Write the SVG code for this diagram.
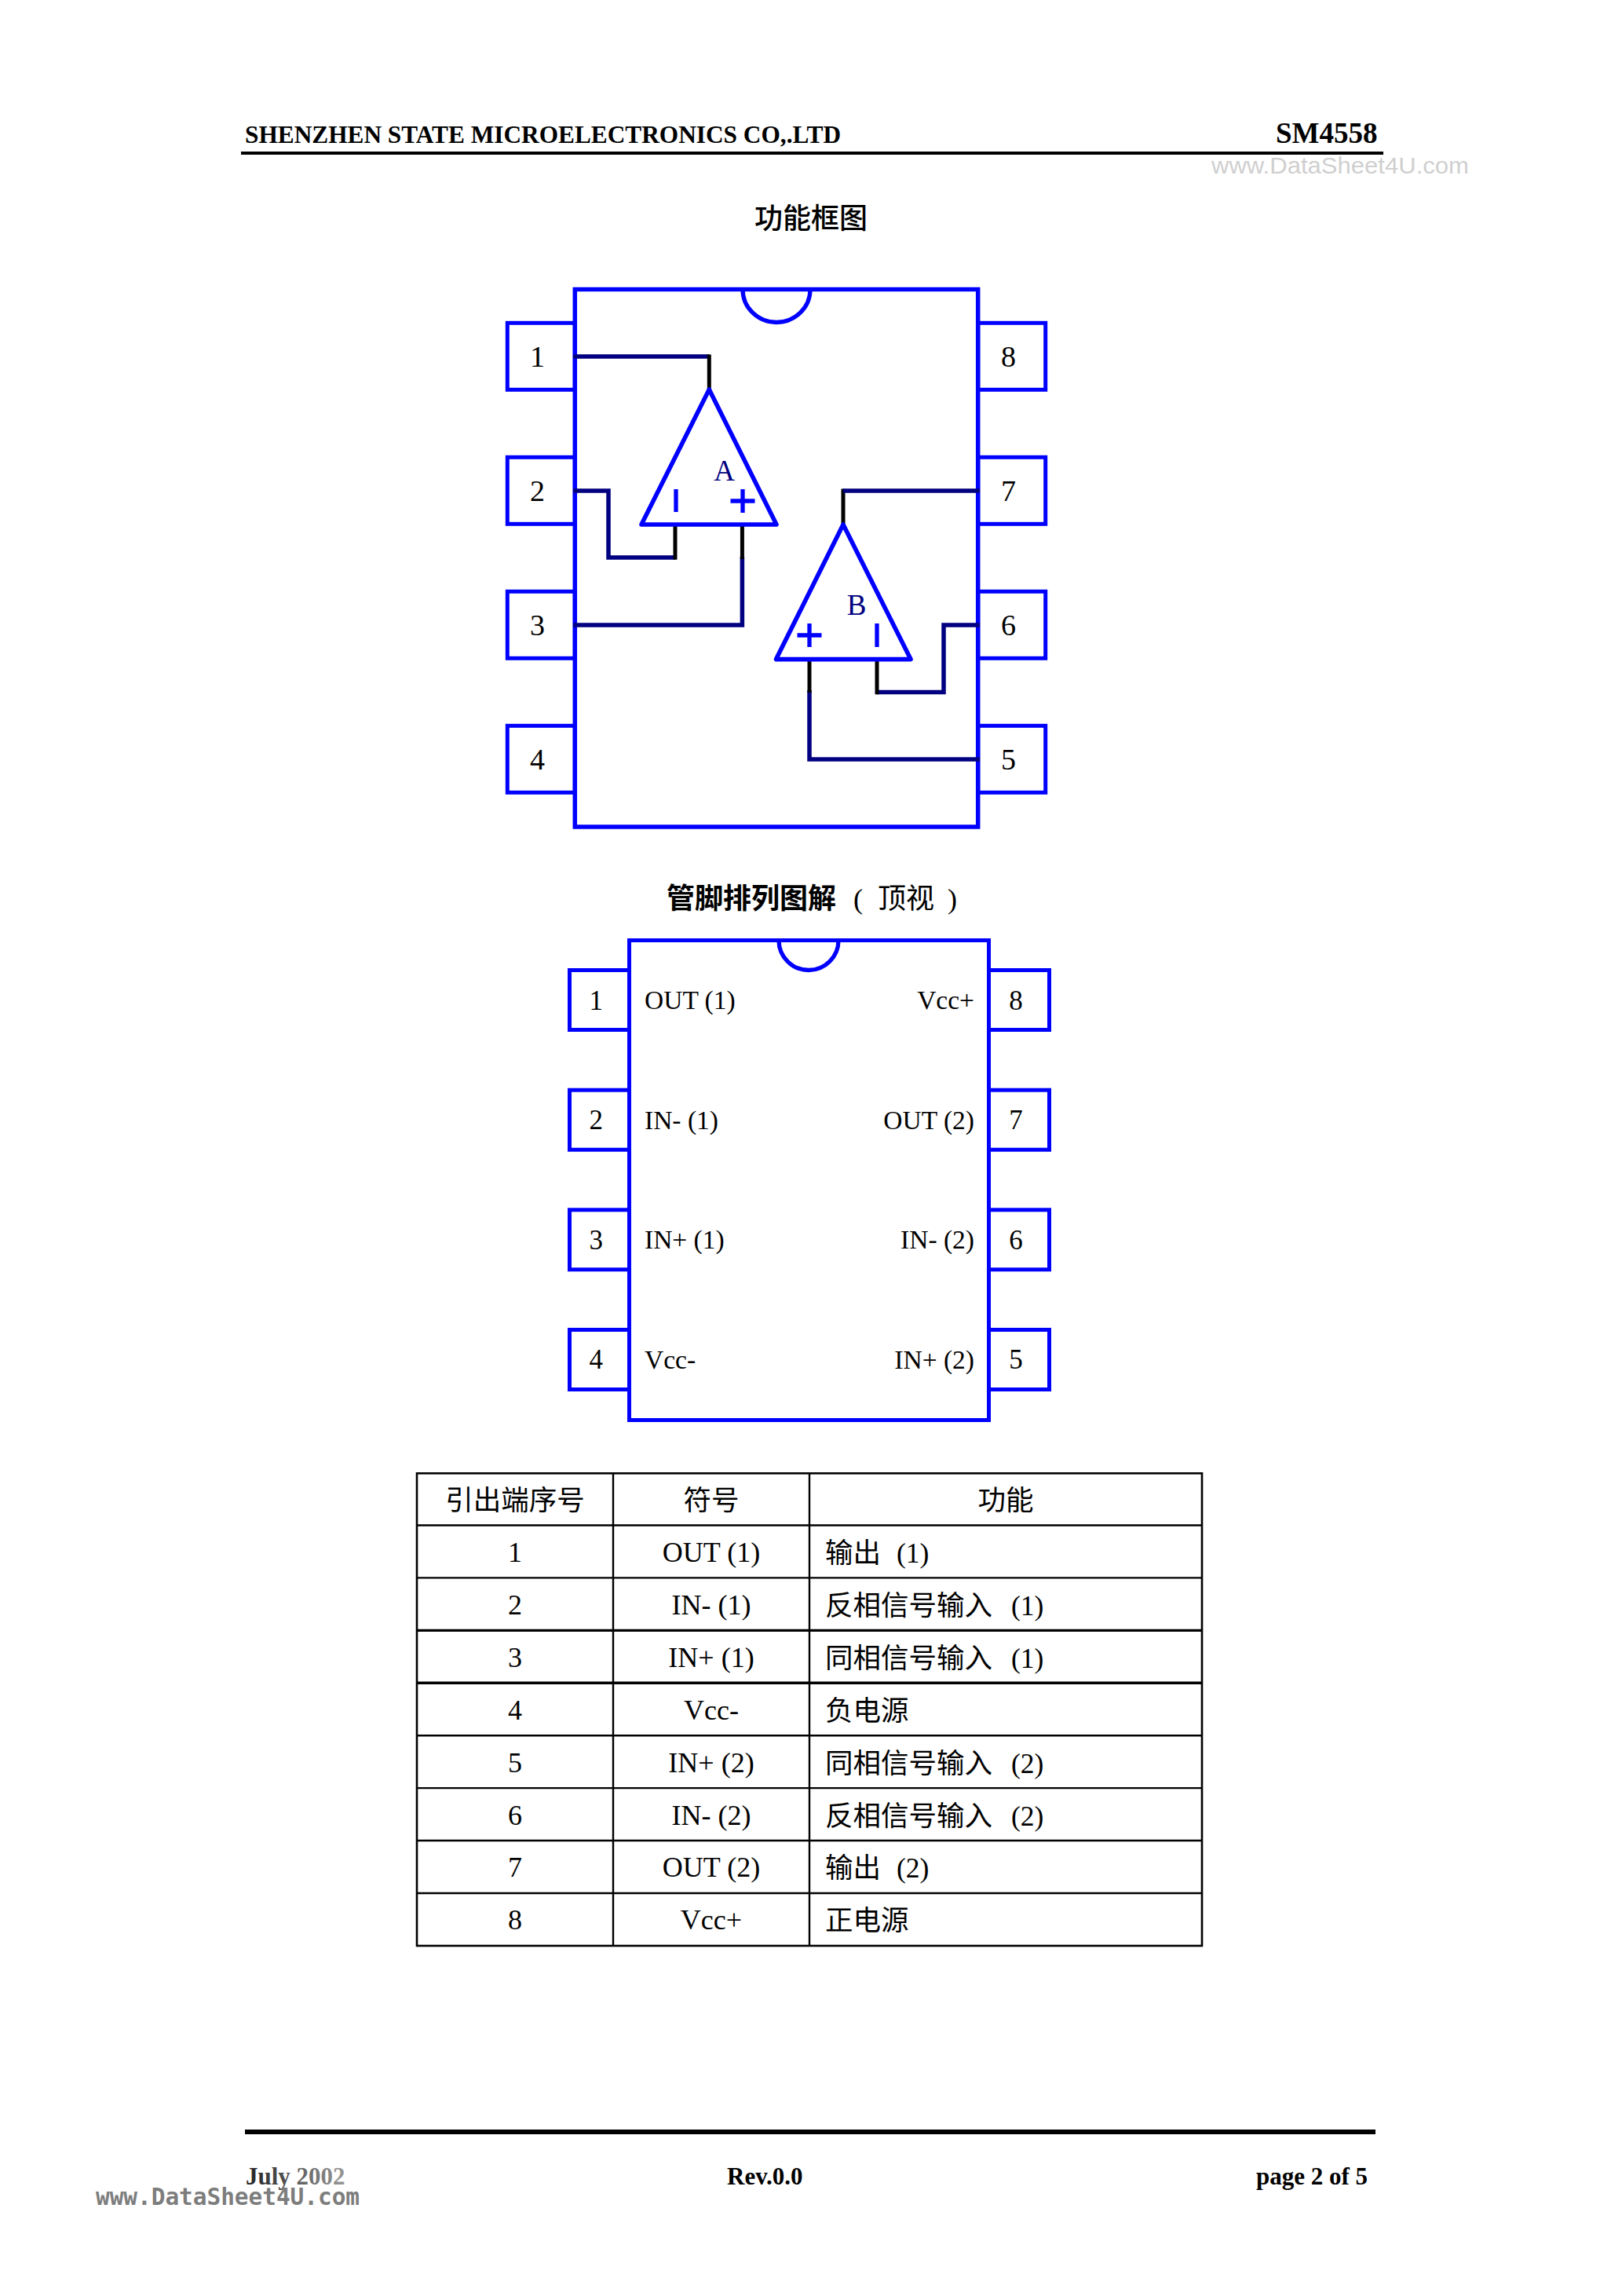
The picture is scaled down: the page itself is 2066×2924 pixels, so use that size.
<svg xmlns="http://www.w3.org/2000/svg" width="2066" height="2924" viewBox="0 0 2066 2924">
<style>
text{font-family:"Liberation Serif","Noto Sans CJK SC",serif;fill:#000}
.b{font-weight:700}
.d1{font-size:38px;text-anchor:middle}
.d2{font-size:35px;text-anchor:middle}
.lab{font-size:33.5px}
.end{text-anchor:end}
.blue{fill:none;stroke:#00f;stroke-width:5.3}
.pin{fill:#fff;stroke:#00f;stroke-width:5}
.box{fill:#fff;stroke:#00f;stroke-width:5.5}
.tri{fill:none;stroke:#00f;stroke-width:5.6;stroke-linejoin:round}
.navy{fill:none;stroke:#000080;stroke-width:5.5;stroke-linejoin:miter}
.blk{fill:none;stroke:#000;stroke-width:5}
.grid{stroke:#000;stroke-width:2.4;fill:none}
.t{font-size:36px}
.cj{font-size:35.5px}
.c{text-anchor:middle}
.wm1{font-family:"Liberation Sans",sans-serif;font-size:30px;fill:#cfcfcf}
.wm2{font-family:"DejaVu Sans Mono",monospace;font-size:30px;fill:#7d7d7d}
</style>
<defs>
<linearGradient id="fade" gradientUnits="userSpaceOnUse" x1="313" y1="0" x2="440" y2="0"><stop offset="0" stop-color="#222"/><stop offset="1" stop-color="#999"/></linearGradient>
</defs>
<rect width="2066" height="2924" fill="#fff"/>

<g id="header">
<text class="b" x="312" y="182" font-size="32" textLength="759" lengthAdjust="spacingAndGlyphs">SHENZHEN STATE MICROELECTRONICS CO,.LTD</text>
<text class="b" x="1625" y="182" font-size="37">SM4558</text>
<rect x="307" y="193" width="1455" height="4" fill="#000"/>
<text class="wm1" x="1543" y="221" textLength="328" lengthAdjust="spacingAndGlyphs">www.DataSheet4U.com</text>
<text x="961" y="291" font-size="36" font-weight="500">功能框图</text>
</g>

<g id="block-diagram">
<g id="bd-pins">
<g id="bd-pin-1"><rect class="pin" x="646.3" y="411.3" width="86" height="85"/><text class="d1" x="684.5" y="467">1</text></g>
<g id="bd-pin-2"><rect class="pin" x="646.3" y="582.3" width="86" height="85"/><text class="d1" x="684.5" y="638">2</text></g>
<g id="bd-pin-3"><rect class="pin" x="646.3" y="753.3" width="86" height="85"/><text class="d1" x="684.5" y="809">3</text></g>
<g id="bd-pin-4"><rect class="pin" x="646.3" y="924.3" width="86" height="85"/><text class="d1" x="684.5" y="980">4</text></g>
<g id="bd-pin-8"><rect class="pin" x="1245.7" y="411.3" width="86" height="85"/><text class="d1" x="1284.5" y="467">8</text></g>
<g id="bd-pin-7"><rect class="pin" x="1245.7" y="582.3" width="86" height="85"/><text class="d1" x="1284.5" y="638">7</text></g>
<g id="bd-pin-6"><rect class="pin" x="1245.7" y="753.3" width="86" height="85"/><text class="d1" x="1284.5" y="809">6</text></g>
<g id="bd-pin-5"><rect class="pin" x="1245.7" y="924.3" width="86" height="85"/><text class="d1" x="1284.5" y="980">5</text></g>
</g>
<g id="bd-package">
<rect class="box" x="732.3" y="368.5" width="513.4" height="684.5"/>
<path class="blue" d="M946 368.5A43 42 0 0 0 1032 368.5"/>
</g>
<g id="connectors">
<path class="navy" d="M730 454H903.3"/><path class="blk" d="M903.3 451.5V496"/>
<path class="navy" d="M730 625H775V710H860"/><path class="blk" d="M860 712.7V668"/>
<path class="navy" d="M730 796H945.4V709"/><path class="blk" d="M945.4 712V668"/>
<path class="blk" d="M1076 625H1074V668"/><path class="navy" d="M1074 625H1248"/>
<path class="navy" d="M1248 796H1202V881.6H1117"/><path class="blk" d="M1117 884.3V840"/>
<path class="navy" d="M1248 967H1031V879"/><path class="blk" d="M1031 882V840"/>
</g>
<g id="opamp-a">
<path class="tri" d="M903.3 496L989 668H817Z"/>
<path class="blue" d="M861 623V652M930.5 638H961.5M946 623V653"/>
<text x="922.5" y="612" font-size="37" text-anchor="middle" style="fill:#000080">A</text>
</g>
<g id="opamp-b">
<path class="tri" d="M1074 668L1160 839.6H988.5Z"/>
<path class="blue" d="M1117 794V824M1015.5 809H1046.5M1031 794V824"/>
<text x="1091" y="783" font-size="37" text-anchor="middle" style="fill:#000080">B</text>
</g>
</g>

<g id="pinout-title">
<text class="b" x="849" y="1157" font-size="36">管脚排列图解<tspan x="1087" font-weight="400">(</tspan><tspan x="1118" font-weight="400">顶视</tspan><tspan x="1207" font-weight="400">)</tspan></text>
</g>

<g id="pinout">
<g id="po-pins">
<g id="po-pin-1"><rect class="pin" x="725.5" y="1235.5" width="76" height="76"/><text class="d2" x="759.3" y="1285.7">1</text></g>
<g id="po-pin-2"><rect class="pin" x="725.5" y="1388.2" width="76" height="76"/><text class="d2" x="759.3" y="1438.4">2</text></g>
<g id="po-pin-3"><rect class="pin" x="725.5" y="1540.8" width="76" height="76"/><text class="d2" x="759.3" y="1591">3</text></g>
<g id="po-pin-4"><rect class="pin" x="725.5" y="1693.5" width="76" height="76"/><text class="d2" x="759.3" y="1743">4</text></g>
<g id="po-pin-8"><rect class="pin" x="1259.5" y="1235.5" width="77" height="76"/><text class="d2" x="1294" y="1285.7">8</text></g>
<g id="po-pin-7"><rect class="pin" x="1259.5" y="1388.2" width="77" height="76"/><text class="d2" x="1294" y="1438.4">7</text></g>
<g id="po-pin-6"><rect class="pin" x="1259.5" y="1540.8" width="77" height="76"/><text class="d2" x="1294" y="1591">6</text></g>
<g id="po-pin-5"><rect class="pin" x="1259.5" y="1693.5" width="77" height="76"/><text class="d2" x="1294" y="1743">5</text></g>
</g>
<g id="po-package">
<rect class="box" x="801.5" y="1197.5" width="458" height="611" style="stroke-width:5"/>
<path class="blue" d="M992 1197.5A38 38 0 0 0 1068 1197.5"/>
<text class="lab" x="821" y="1285">OUT (1)</text>
<text class="lab" x="821" y="1438">IN- (1)</text>
<text class="lab" x="821" y="1590">IN+ (1)</text>
<text class="lab" x="821" y="1743">Vcc-</text>
<text class="lab end" x="1241" y="1285">Vcc+</text>
<text class="lab end" x="1241" y="1438">OUT (2)</text>
<text class="lab end" x="1241" y="1590">IN- (2)</text>
<text class="lab end" x="1241" y="1743">IN+ (2)</text>
</g>
</g>

<g id="pin-table">
<rect class="grid" x="531" y="1876.3" width="1000" height="601.7" style="stroke-width:2.6"/>
<path class="grid" d="M781 1876V2478M1031 1876V2478"/>
<path class="grid" d="M531 1942.5H1531M531 2009.4H1531M531 2210.2H1531M531 2277.1H1531M531 2344H1531M531 2411H1531"/>
<path class="grid" style="stroke-width:3.4" d="M531 2076.4H1531M531 2143.3H1531"/>
<text class="cj c" x="656" y="1923">引出端序号</text>
<text class="cj c" x="906" y="1923">符号</text>
<text class="cj c" x="1281" y="1923">功能</text>
<g id="row-1"><text class="t c" x="656" y="1989">1</text><text class="t c" x="906" y="1989">OUT (1)</text><text class="cj" x="1051" y="1990">输出<tspan x="1142">(1)</tspan></text></g>
<g id="row-2"><text class="t c" x="656" y="2055.9">2</text><text class="t c" x="906" y="2055.9">IN- (1)</text><text class="cj" x="1051" y="2056.9">反相信号输入<tspan x="1288">(1)</tspan></text></g>
<g id="row-3"><text class="t c" x="656" y="2122.8">3</text><text class="t c" x="906" y="2122.8">IN+ (1)</text><text class="cj" x="1051" y="2123.8">同相信号输入<tspan x="1288">(1)</tspan></text></g>
<g id="row-4"><text class="t c" x="656" y="2189.7">4</text><text class="t c" x="906" y="2189.7">Vcc-</text><text class="cj" x="1051" y="2190.7">负电源</text></g>
<g id="row-5"><text class="t c" x="656" y="2256.6">5</text><text class="t c" x="906" y="2256.6">IN+ (2)</text><text class="cj" x="1051" y="2257.6">同相信号输入<tspan x="1288">(2)</tspan></text></g>
<g id="row-6"><text class="t c" x="656" y="2323.5">6</text><text class="t c" x="906" y="2323.5">IN- (2)</text><text class="cj" x="1051" y="2324.5">反相信号输入<tspan x="1288">(2)</tspan></text></g>
<g id="row-7"><text class="t c" x="656" y="2390.4">7</text><text class="t c" x="906" y="2390.4">OUT (2)</text><text class="cj" x="1051" y="2391.4">输出<tspan x="1142">(2)</tspan></text></g>
<g id="row-8"><text class="t c" x="656" y="2457.3">8</text><text class="t c" x="906" y="2457.3">Vcc+</text><text class="cj" x="1051" y="2458.3">正电源</text></g>
</g>

<g id="footer">
<rect x="312" y="2712" width="1440" height="6" fill="#000"/>
<text class="b" x="313" y="2782" font-size="31" style="fill:url(#fade)">July 2002</text>
<text class="b" x="926" y="2782" font-size="31">Rev.0.0</text>
<text class="b" x="1600" y="2782" font-size="31">page 2 of 5</text>
<text class="wm2" x="122" y="2808" font-weight="700" textLength="336" lengthAdjust="spacingAndGlyphs">www.DataSheet4U.com</text>
</g>
</svg>
